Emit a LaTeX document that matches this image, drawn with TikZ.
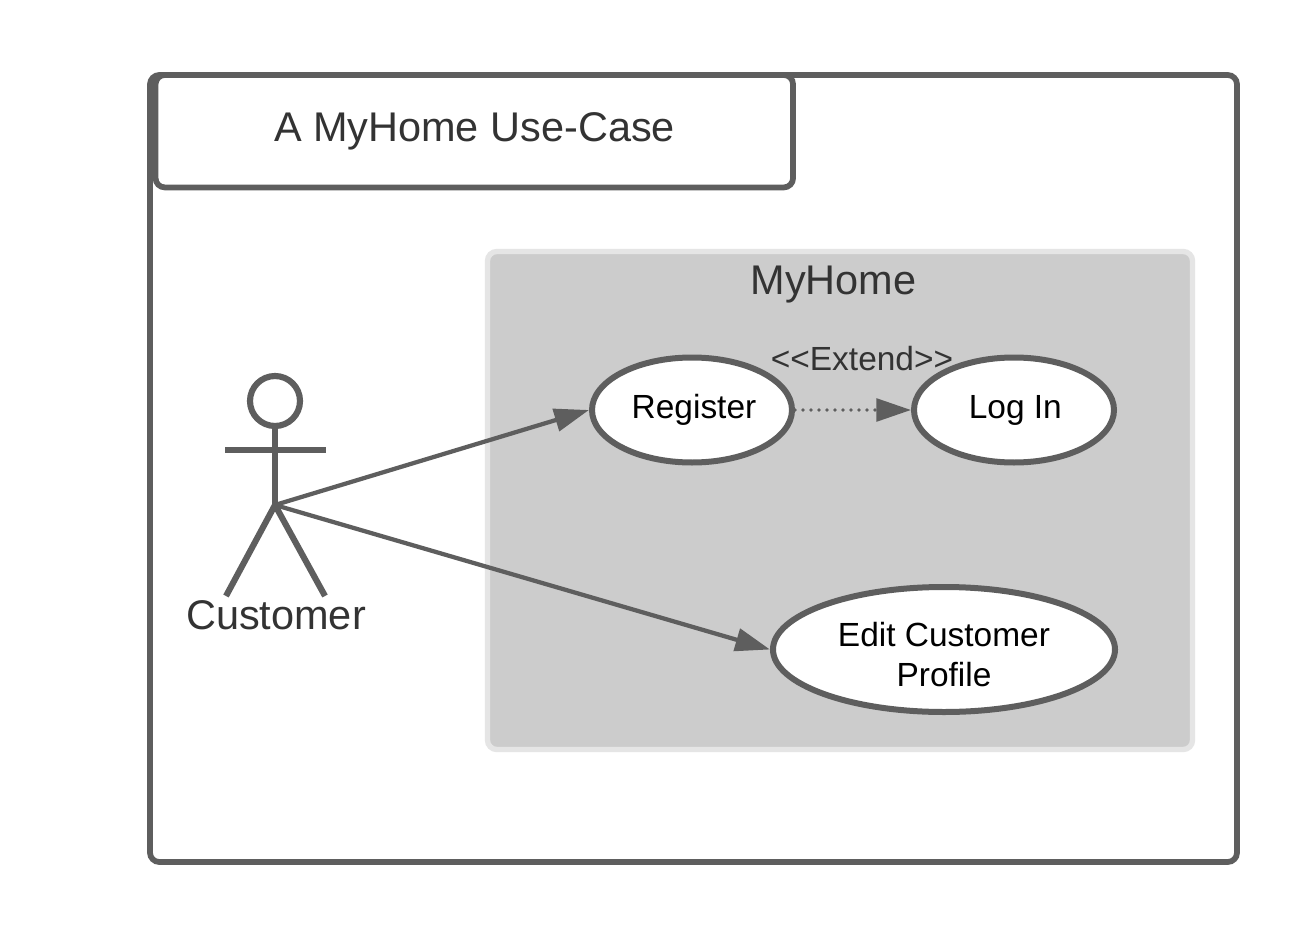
\documentclass[tikz,border=0pt]{standalone}
\usepackage{fontspec}
\setmainfont{Liberation Sans}
\usetikzlibrary{arrows.meta,shapes.geometric}
\definecolor{linegray}{HTML}{5E5E5E}
\definecolor{labelgray}{HTML}{333333}
\definecolor{groupfill}{HTML}{CCCCCC}
\definecolor{groupedge}{HTML}{E5E5E5}
\tikzset{
  x=0.75pt,y=-0.75pt,
  bigtext/.style={font=\fontsize{31.1pt}{36pt}\selectfont,text=labelgray,inner sep=0pt},
  smalltext/.style={font=\fontsize{25.1pt}{30pt}\selectfont,inner sep=0pt},
  usecase/.style={ellipse,draw=linegray,line width=4.5pt,fill=white,inner sep=0pt,align=center,smalltext,text=black},
  box/.style={draw=linegray,line width=4.3pt,rounded corners=7pt,inner sep=0pt},
  stick/.style={draw=linegray,line width=4.6pt},
  flow/.style={draw=linegray,line width=3.2pt,-{Triangle[length=26pt,width=17pt,fill=linegray]}},
}
\begin{document}
\begin{tikzpicture}
\useasboundingbox (0,0) rectangle (1313,938);
\fill[white] (0,0) rectangle (1313,938);
% frame
\node[box,fill=white,minimum width=1087*0.75pt,minimum height=787*0.75pt] (frame) at (693.5,468.5) {};
\node[box,fill=white,minimum width=637.5*0.75pt,minimum height=112.5*0.75pt] (title) at (474.3,131.2) {};
\draw[linegray,line width=3pt] (152.7,85) -- (152.7,178);
\node[bigtext] (titletext) at (474.5,131) {A MyHome Use-Case};
% system boundary
\node[draw=groupedge,fill=groupfill,line width=4pt,rounded corners=7pt,minimum width=705*0.75pt,minimum height=498*0.75pt] (system) at (840,500.5) {};
\node[bigtext] (systemname) at (833.5,285) {MyHome};
% use cases
\node[usecase,minimum width=200*0.75pt,minimum height=105*0.75pt] (register) at (692,410) {\hspace*{3pt}\raisebox{3pt}{Register}};
\node[usecase,minimum width=200*0.75pt,minimum height=105*0.75pt] (login) at (1014,410) {\hspace*{2pt}\raisebox{3pt}{Log In}};
\node[usecase,minimum width=342*0.75pt,minimum height=125*0.75pt] (edit) at (944,649.5) {};
\node[smalltext,text=black,align=center] (edittext) at (944,654.5) {Edit Customer\\Profile};
\node[smalltext,text=labelgray] (extend) at (862,359) {<{}<Extend>{}>};
% actor
\node[circle,stick,minimum size=50*0.75pt,inner sep=0pt] (head) at (275,401) {};
\coordinate (hip) at (275,505);
\coordinate (armL) at (225,450);
\coordinate (armR) at (326,450);
\coordinate (footL) at (226,596);
\coordinate (footR) at (325,596);
\draw[stick] (head) -- (hip);
\draw[stick] (armL) -- (armR);
\draw[stick,line join=round] (footL) -- (hip) -- (footR);
\node[bigtext] (customer) at (276,615) {Customer};
% connectors
\draw[flow] (hip) -- (register.west);
\draw[flow] (hip) -- (edit.west);
\draw[flow,line width=2.8pt,line cap=round,dash pattern=on 0pt off 6pt] (register.east) -- (login.west);
\end{tikzpicture}
\end{document}
